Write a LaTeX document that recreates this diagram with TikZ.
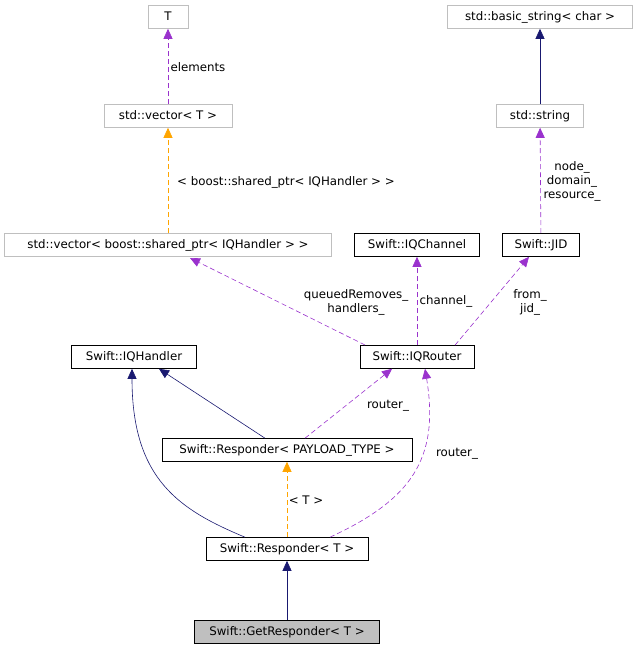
\documentclass[tikz,border=0pt]{standalone}
\usepackage{fontspec}
\setmainfont{DejaVu Sans}
\usetikzlibrary{arrows.meta}
\definecolor{navy}{HTML}{191970}
\definecolor{purp}{HTML}{9A32CD}
\definecolor{orng}{HTML}{FFA500}
\definecolor{grayb}{HTML}{BFBFBF}
\begin{document}
\begin{tikzpicture}[x=1pt,y=-1pt,line width=0.6pt,
  box/.style={draw=black,fill=white,inner sep=0pt,minimum height=23pt,font=\fontsize{11.8}{13}\selectfont,text height=8.5pt,text depth=2.5pt},
  gbox/.style={box,draw=grayb},
  lbl/.style={font=\fontsize{11.8}{14}\selectfont,align=center,inner sep=1pt},
  inh/.style={draw=navy,-{Triangle[length=10pt,width=9pt]}},
  use/.style={draw=purp,dash pattern=on 5pt off 3pt,-{Triangle[length=10pt,width=9pt,fill=purp]}},
  tpl/.style={draw=orng,dash pattern=on 5pt off 3pt,-{Triangle[length=10pt,width=9pt,fill=orng]}}]
\useasboundingbox (0,0) rectangle (639,651);
\node[gbox,minimum width=40pt] (T) at (168,17) {T};
\node[gbox,minimum width=185pt] (bs) at (540,17) {std::basic\_string< char >};
\node[gbox,minimum width=128pt] (vT) at (168,116) {std::vector< T >};
\node[gbox,minimum width=87pt] (str) at (540,116) {std::string};
\node[gbox,minimum width=327pt] (vsp) at (168,245) {std::vector< boost::shared\_ptr< IQHandler > >};
\node[box,minimum width=125pt] (ch) at (417,245) {Swift::IQChannel};
\node[box,minimum width=77pt] (jid) at (541,245) {Swift::JID};
\node[box,minimum width=125pt] (qh) at (134,357) {Swift::IQHandler};
\node[box,minimum width=114pt] (rt) at (417,357) {Swift::IQRouter};
\node[box,minimum width=250pt] (rp) at (287,450) {Swift::Responder< PAYLOAD\_TYPE >};
\node[box,minimum width=162pt] (rT) at (287,549) {Swift::Responder< T >};
\node[box,fill=grayb,minimum width=185pt] (gr) at (287,632) {Swift::GetResponder< T >};

\draw[use] (vT) -- (T);
\node[lbl] (l1) at (198,67) {elements};
\draw[inh] (str) -- (bs);
\draw[tpl] (vsp) -- (vT);
\node[lbl] (l2) at (286,182) {< boost::shared\_ptr< IQHandler > >};
\draw[use] (jid) -- (str);
\node[lbl] (l3) at (572,181) {node\_\\domain\_\\resource\_};
\coordinate (a1) at (365,345);
\draw[use] (a1) -- (190,258);
\node[lbl] (l4) at (356,302) {queuedRemoves\_\\handlers\_};
\draw[use] (rt) -- (ch);
\node[lbl] (l5) at (446,301) {channel\_};
\draw[use] ([xshift=38pt]rt.north) -- ([xshift=-12pt]jid.south);
\node[lbl] (l6) at (530,302) {from\_\\jid\_};
\draw[inh] ([xshift=-22pt]rp.north) -- ([xshift=25pt]qh.south);
\draw[use] ([xshift=18pt]rp.north) -- ([xshift=-25pt]rt.south);
\node[lbl] (l7) at (388,406) {router\_};
\draw[inh] ([xshift=-42pt]rT.north) .. controls (180,510) and (132,480) .. ([xshift=-2pt]qh.south);
\draw[tpl] (rT) -- (rp);
\node[lbl] (l8) at (306,500) {< T >};
\draw[use] ([xshift=43pt]rT.north) .. controls (410,500) and (440,460) .. ([xshift=8pt]rt.south);
\node[lbl] (l9) at (457,454) {router\_};
\draw[inh] (gr) -- (rT);
\end{tikzpicture}
\end{document}
